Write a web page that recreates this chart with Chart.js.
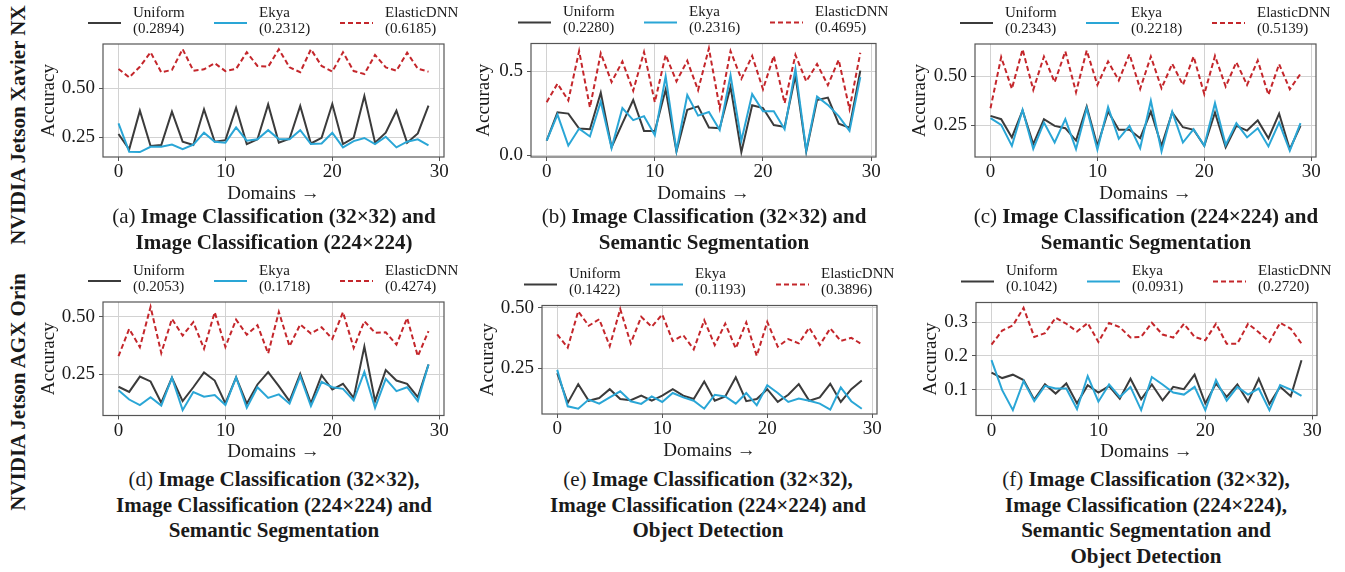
<!DOCTYPE html>
<html>
<head>
<meta charset="utf-8">
<script src="https://cdn.jsdelivr.net/npm/chart.js@4.4.1/dist/chart.umd.min.js"></script>
<style>
  body { margin: 0; background: #fff; width: 1345px; height: 572px; position: relative; overflow: hidden;
         font-family: "Liberation Serif", "Times New Roman", serif; color: #1a1a1a; }
  canvas { position: absolute; }
  .cap { position: absolute; font-size: 21px; line-height: 25.7px; font-weight: bold; text-align: center;
         white-space: nowrap; transform: translateX(-50%); }
  .cap span { font-weight: normal; }
  .row { position: absolute; font-size: 21px; font-weight: bold; white-space: nowrap;
         transform: translate(-50%, -50%) rotate(-90deg); }
</style>
</head>
<body>

<div class="row" style="left:18px;top:125px">NVIDIA Jetson Xavier NX</div>
<div class="row" style="left:18px;top:392px">NVIDIA Jetson AGX Orin</div>

<canvas id="ca"></canvas><canvas id="cb"></canvas><canvas id="cc"></canvas>
<canvas id="cd"></canvas><canvas id="ce"></canvas><canvas id="cf"></canvas>

<div class="cap" style="left:274px;top:204px"><span>(a)</span> Image Classification (32×32) and<br>Image Classification (224×224)</div>
<div class="cap" style="left:704px;top:204px"><span>(b)</span> Image Classification (32×32) and<br>Semantic Segmentation</div>
<div class="cap" style="left:1146px;top:204px"><span>(c)</span> Image Classification (224×224) and<br>Semantic Segmentation</div>
<div class="cap" style="left:274px;top:467px"><span>(d)</span> Image Classification (32×32),<br>Image Classification (224×224) and<br>Semantic Segmentation</div>
<div class="cap" style="left:708px;top:467px"><span>(e)</span> Image Classification (32×32),<br>Image Classification (224×224) and<br>Object Detection</div>
<div class="cap" style="left:1146px;top:467px"><span>(f)</span> Image Classification (32×32),<br>Image Classification (224×224),<br>Semantic Segmentation and<br>Object Detection</div>

<script>
// domains on the x axis
const domains = [0,1,2,3,4,5,6,7,8,9,10,11,12,13,14,15,16,17,18,19,20,21,22,23,24,25,26,27,28,29];
const xTicks = [0, 10, 20, 30];

// (a) IC 32 + IC 224, Xavier NX
const uniformA = [0.267,0.189,0.386,0.206,0.211,0.381,0.228,0.211,0.393,0.228,0.236,0.401,0.216,0.240,0.418,0.223,0.243,0.410,0.219,0.248,0.420,0.216,0.248,0.461,0.223,0.274,0.386,0.223,0.270,0.412];
const ekyaA    = [0.321,0.177,0.175,0.202,0.202,0.213,0.190,0.213,0.274,0.228,0.223,0.301,0.233,0.240,0.287,0.240,0.241,0.287,0.216,0.219,0.274,0.199,0.231,0.247,0.216,0.253,0.199,0.228,0.240,0.209];
const elasticA = [0.599,0.556,0.610,0.684,0.582,0.594,0.700,0.590,0.597,0.628,0.588,0.599,0.684,0.614,0.610,0.699,0.607,0.582,0.699,0.614,0.585,0.684,0.588,0.573,0.670,0.607,0.590,0.682,0.600,0.585];
const meansA = ["0.2894", "0.2312", "0.6185"];
const yTicksA = [0.25, 0.50];

// (b) IC 32 + SS, Xavier NX
const uniformB = [0.087,0.256,0.248,0.159,0.155,0.372,0.048,0.190,0.329,0.145,0.145,0.391,0.023,0.271,0.291,0.165,0.161,0.407,0.019,0.298,0.281,0.180,0.169,0.475,0.023,0.329,0.343,0.188,0.165,0.504];
const ekyaB    = [0.087,0.242,0.058,0.159,0.112,0.320,0.043,0.281,0.209,0.233,0.120,0.469,0.029,0.359,0.236,0.258,0.151,0.475,0.087,0.364,0.262,0.262,0.155,0.514,0.029,0.349,0.300,0.233,0.145,0.465];
const elasticB = [0.316,0.426,0.326,0.620,0.285,0.607,0.436,0.558,0.384,0.614,0.316,0.597,0.440,0.562,0.388,0.636,0.281,0.620,0.455,0.591,0.393,0.591,0.310,0.597,0.440,0.543,0.417,0.568,0.275,0.610];
const meansB = ["0.2280", "0.2316", "0.4695"];
const yTicksB = [0.0, 0.5];

// (c) IC 224 + SS, Xavier NX
const uniformC = [0.299,0.282,0.189,0.327,0.155,0.282,0.248,0.236,0.173,0.347,0.146,0.321,0.228,0.228,0.185,0.321,0.146,0.316,0.241,0.228,0.146,0.316,0.139,0.248,0.224,0.276,0.185,0.310,0.129,0.248];
const ekyaC    = [0.287,0.253,0.146,0.330,0.131,0.265,0.163,0.282,0.129,0.338,0.126,0.344,0.182,0.248,0.134,0.376,0.117,0.321,0.163,0.231,0.146,0.364,0.151,0.262,0.189,0.236,0.143,0.265,0.121,0.262];
const elasticC = [0.338,0.599,0.437,0.639,0.432,0.602,0.471,0.628,0.420,0.633,0.457,0.577,0.480,0.614,0.437,0.602,0.440,0.565,0.457,0.602,0.410,0.605,0.449,0.573,0.457,0.582,0.406,0.563,0.435,0.514];
const meansC = ["0.2343", "0.2218", "0.5139"];
const yTicksC = [0.25, 0.50];

// (d) IC 32 + IC 224 + SS, AGX Orin
const uniformD = [0.197,0.175,0.241,0.220,0.128,0.236,0.135,0.195,0.259,0.224,0.125,0.238,0.124,0.207,0.260,0.200,0.135,0.253,0.125,0.247,0.185,0.210,0.149,0.371,0.135,0.269,0.224,0.210,0.152,0.293];
const ekyaD    = [0.182,0.142,0.118,0.152,0.116,0.236,0.096,0.174,0.154,0.161,0.118,0.238,0.106,0.195,0.149,0.164,0.124,0.243,0.114,0.218,0.195,0.188,0.138,0.261,0.106,0.231,0.178,0.195,0.135,0.293];
const elasticD = [0.329,0.447,0.368,0.542,0.343,0.490,0.418,0.476,0.361,0.519,0.369,0.487,0.422,0.463,0.341,0.520,0.372,0.466,0.427,0.454,0.404,0.519,0.365,0.480,0.430,0.432,0.379,0.494,0.329,0.437];
const meansD = ["0.2053", "0.1718", "0.4274"];
const yTicksD = [0.25, 0.50];

// (e) IC 32 + IC 224 + OD, AGX Orin
const uniformE = [0.229,0.106,0.184,0.115,0.126,0.163,0.122,0.117,0.136,0.115,0.136,0.163,0.136,0.122,0.195,0.115,0.133,0.212,0.113,0.122,0.163,0.110,0.140,0.184,0.115,0.129,0.185,0.110,0.163,0.199];
const ekyaE    = [0.243,0.092,0.082,0.120,0.103,0.129,0.154,0.113,0.102,0.133,0.110,0.147,0.129,0.115,0.082,0.140,0.133,0.103,0.147,0.096,0.179,0.147,0.110,0.124,0.115,0.103,0.078,0.170,0.113,0.082];
const elasticE = [0.390,0.335,0.486,0.426,0.453,0.342,0.495,0.353,0.463,0.422,0.473,0.363,0.387,0.328,0.449,0.346,0.435,0.332,0.440,0.301,0.442,0.339,0.371,0.353,0.418,0.346,0.415,0.363,0.376,0.349];
const meansE = ["0.1422", "0.1193", "0.3896"];
const yTicksE = [0.25, 0.50];

// (f) IC 32 + IC 224 + SS + OD, AGX Orin
const uniformF = [0.150,0.134,0.144,0.128,0.070,0.116,0.088,0.118,0.059,0.113,0.091,0.110,0.073,0.132,0.071,0.115,0.068,0.108,0.101,0.144,0.059,0.118,0.078,0.115,0.064,0.132,0.057,0.108,0.080,0.187];
const ekyaF    = [0.187,0.098,0.039,0.125,0.066,0.111,0.103,0.103,0.042,0.140,0.064,0.115,0.078,0.108,0.039,0.137,0.115,0.091,0.085,0.108,0.039,0.128,0.067,0.108,0.085,0.103,0.039,0.113,0.100,0.081];
const elasticF = [0.233,0.275,0.290,0.342,0.256,0.267,0.313,0.295,0.272,0.297,0.241,0.297,0.285,0.254,0.256,0.298,0.263,0.254,0.295,0.256,0.246,0.295,0.236,0.236,0.295,0.270,0.241,0.298,0.280,0.236];
const meansF = ["0.1042", "0.0931", "0.2720"];
const yTicksF = [0.1, 0.2, 0.3];

const SERIF = '"Liberation Serif", "Times New Roman", serif';
Chart.defaults.font.family = SERIF;
Chart.defaults.color = "#1a1a1a";

const C_UNIFORM = "#3b3b3b";
const C_EKYA = "#2aa6d6";
const C_ELASTIC = "#c4262b";

// canvas box, frame (left, top, right, bottom) and y label centre, in page pixels
const panels = [
  { id: "ca", box: [30, 0, 450, 205],   frame: [103, 44, 444, 157],     acc: 49,  y: [0.150, 0.726], ticks: yTicksA, dec: 2, u: uniformA, e: ekyaA, el: elasticA, means: meansA },
  { id: "cb", box: [470, 0, 430, 205],  frame: [531, 43.5, 876, 157],   acc: 484, y: [-0.010, 0.665], ticks: yTicksB, dec: 1, u: uniformB, e: ekyaB, el: elasticB, means: meansB },
  { id: "cc", box: [900, 0, 445, 205],  frame: [975, 44, 1316, 157],    acc: 920, y: [0.089, 0.666], ticks: yTicksC, dec: 2, u: uniformC, e: ekyaC, el: elasticC, means: meansC },
  { id: "cd", box: [30, 258, 450, 205], frame: [103, 302, 444, 415.5],  acc: 49,  y: [0.073, 0.563], ticks: yTicksD, dec: 2, u: uniformD, e: ekyaD, el: elasticD, means: meansD },
  { id: "ce", box: [470, 258, 430, 204],frame: [542, 305.5, 877, 414],  acc: 488, y: [0.060, 0.510], ticks: yTicksE, dec: 2, u: uniformE, e: ekyaE, el: elasticE, means: meansE },
  { id: "cf", box: [900, 258, 445, 205],frame: [976, 302.5, 1317, 415.5], acc: 931, y: [0.023, 0.358], ticks: yTicksF, dec: 1, u: uniformF, e: ekyaF, el: elasticF, means: meansF }
];

// two-line legend above the axes plus the full box frame
const legendFrame = {
  id: "legendFrame",
  afterDraw(chart, args, opts) {
    const { ctx, chartArea: a } = chart;
    const cx = (a.left + a.right) / 2;
    ctx.save();
    chart.data.datasets.forEach((ds, k) => {
      const x0 = cx - 185.5 + k * 126;
      ctx.strokeStyle = ds.borderColor;
      ctx.lineWidth = ds.borderWidth;
      ctx.setLineDash(ds.borderDash || []);
      ctx.beginPath();
      ctx.moveTo(x0, a.top - 21);
      ctx.lineTo(x0 + 33, a.top - 21);
      ctx.stroke();
      ctx.setLineDash([]);
      ctx.fillStyle = "#1a1a1a";
      ctx.font = "15px " + SERIF;
      ctx.textBaseline = "middle";
      ctx.textAlign = "left";
      ctx.fillText(ds.label, x0 + 45, a.top - 31);
      ctx.fillText("(" + opts.means[k] + ")", x0 + 45, a.top - 15);
    });
    ctx.strokeStyle = "#555";
    ctx.lineWidth = 1.2;
    ctx.strokeRect(a.left, a.top, a.right - a.left, a.bottom - a.top);
    ctx.restore();
  }
};

function series(values) {
  return values.map((v, i) => ({ x: domains[i], y: v }));
}

panels.forEach(p => {
  const [left, top, width, height] = p.box;
  const [fl, ft, fr, fb] = p.frame;
  const canvas = document.getElementById(p.id);
  canvas.width = width;
  canvas.height = height;
  canvas.style.left = left + "px";
  canvas.style.top = top + "px";

  const titleLeft = p.acc - 11.4;

  new Chart(canvas, {
    type: "line",
    data: {
      datasets: [
        { label: "Uniform", data: series(p.u), borderColor: C_UNIFORM, borderWidth: 2, order: 3 },
        { label: "Ekya", data: series(p.e), borderColor: C_EKYA, borderWidth: 2, order: 2 },
        { label: "ElasticDNN", data: series(p.el), borderColor: C_ELASTIC, borderWidth: 2, borderDash: [5, 3], order: 1 }
      ]
    },
    options: {
      responsive: false,
      animation: false,
      devicePixelRatio: 1,
      elements: { point: { radius: 0 }, line: { tension: 0 } },
      layout: { padding: { left: titleLeft - left, top: ft - top, right: left + width - fr, bottom: 0 } },
      plugins: { legend: { display: false }, tooltip: { enabled: false }, legendFrame: { means: p.means } },
      scales: {
        x: {
          type: "linear",
          min: -1.45,
          max: 30.45,
          afterBuildTicks: s => { s.ticks = xTicks.map(v => ({ value: v })); },
          afterFit: s => { s.height = top + height - fb; },
          grid: { color: "#d2d2d2", lineWidth: 1, tickLength: 4, tickColor: "#555" },
          border: { display: false },
          ticks: { padding: 0, font: { size: 19 }, maxRotation: 0, callback: v => String(v) },
          title: { display: true, text: "Domains \u2192", font: { size: 19 }, padding: 0 }
        },
        y: {
          min: p.y[0],
          max: p.y[1],
          afterBuildTicks: s => { s.ticks = p.ticks.map(v => ({ value: v })); },
          afterFit: s => { s.width = fl - titleLeft; },
          grid: { color: "#d2d2d2", lineWidth: 1, tickLength: 4, tickColor: "#555" },
          border: { display: false },
          ticks: { padding: 4, font: { size: 19 }, callback: v => v.toFixed(p.dec) },
          title: { display: true, text: "Accuracy", font: { size: 19 }, padding: 0 }
        }
      }
    },
    plugins: [legendFrame]
  });
});
</script>
</body>
</html>
